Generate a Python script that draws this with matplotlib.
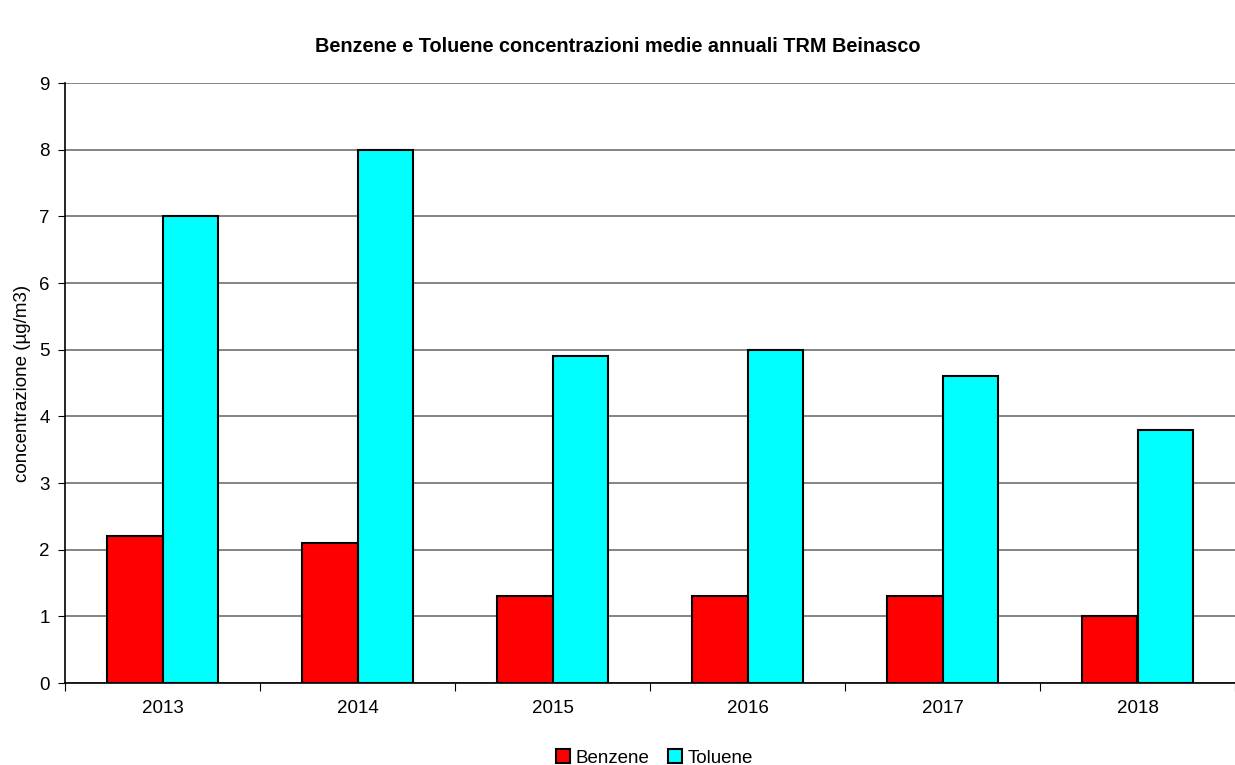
import numpy as np
import matplotlib
matplotlib.use("Agg")
import matplotlib.pyplot as plt

years = ["2013", "2014", "2015", "2016", "2017", "2018"]
benzene = [2.2, 2.1, 1.3, 1.3, 1.3, 1.0]
toluene = [7.0, 8.0, 4.9, 5.0, 4.6, 3.8]

plt.rcParams['font.family'] = ['Liberation Sans', 'DejaVu Sans']
fs = 13.5

fig = plt.figure(figsize=(12.35, 7.65), dpi=100)
ax = fig.add_axes([65 / 1235, 82 / 765, 1 - 65 / 1235, 600 / 765])

x = np.arange(len(years))
w = 0.287
ax.bar(x - w / 2, benzene, w, color='#ff0000', edgecolor='black', linewidth=1.5,
       label='Benzene', zorder=3)
ax.bar(x + w / 2, toluene, w, color='#00ffff', edgecolor='black', linewidth=1.5,
       label='Toluene', zorder=3)

ax.set_xlim(-0.5, len(years) - 0.5)
ax.set_ylim(0, 9)
ax.set_yticks(range(0, 10))
ax.yaxis.grid(True, color='#707070', linewidth=1.2, zorder=0)

# category separators as major ticks, year labels on minor ticks
ax.set_xticks(np.arange(-0.5, len(years) - 0.4, 1))
ax.set_xticklabels([])
ax.set_xticks(x, minor=True)
ax.set_xticklabels(years, minor=True)
ax.tick_params(axis='x', which='minor', length=0, pad=12, labelsize=fs)
ax.tick_params(axis='x', which='major', length=6, direction='out')
ax.tick_params(axis='y', length=5, direction='out', labelsize=fs, pad=6)

for s in ['top', 'right']:
    ax.spines[s].set_visible(False)
ax.spines['left'].set_linewidth(1.2)
ax.spines['bottom'].set_linewidth(1.2)

ax.set_ylabel('concentrazione (µg/m3)', fontsize=fs, labelpad=6)
fig.suptitle('Benzene e Toluene concentrazioni medie annuali TRM Beinasco',
             x=0.5, y=1 - 47 / 765, va='center', fontsize=14.3, fontweight='bold')

ax.legend(loc='center', bbox_to_anchor=(0.5 - 65 / 1235 / 2 + 0.03, -0.125),
          ncol=2, frameon=False, fontsize=fs, handlelength=0.75, handleheight=0.75,
          handletextpad=0.3, columnspacing=1.0)

fig.savefig("out.png", dpi=100)
